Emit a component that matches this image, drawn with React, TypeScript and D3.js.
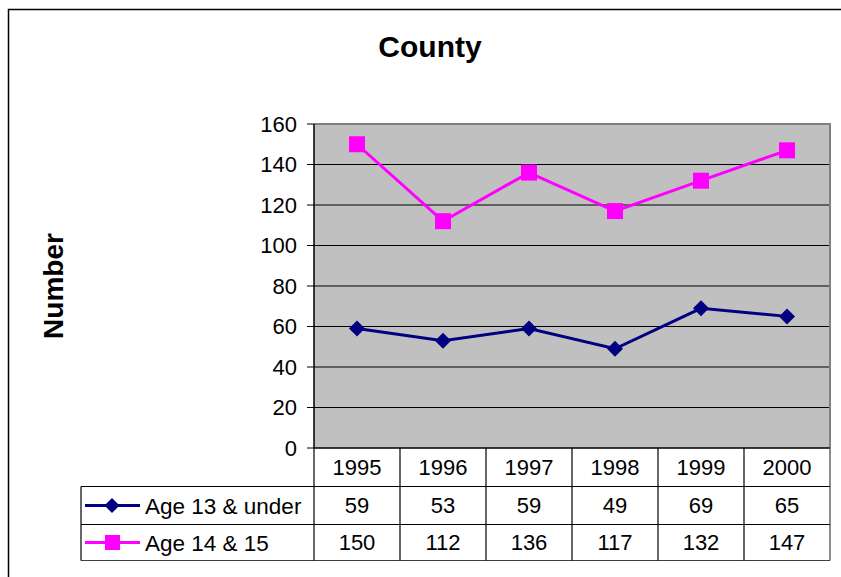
import React from "react";
import * as d3 from "d3";

const categories = ["1995", "1996", "1997", "1998", "1999", "2000"];
const seriesNames = ["Age 13 & under", "Age 14 & 15"];
const seriesUnder13 = [59, 53, 59, 49, 69, 65];
const series14to15 = [150, 112, 136, 117, 132, 147];
const yTicks = [0, 20, 40, 60, 80, 100, 120, 140, 160];
const seriesColors = ["#000080", "#FF00FF"];

const W = 841;
const H = 577;
const plotL = 314;
const plotR = 830;
const plotT = 124;
const plotB = 448;
const row0B = 486.5;
const row1B = 524.5;
const row2B = 560.5;
const tableL = 81;
const font = "'Liberation Sans', Arial, sans-serif";

export default function App() {
  const x = d3.scaleBand<string>().domain(categories).range([plotL, plotR]);
  const y = d3.scaleLinear().domain([0, 160]).range([plotB, plotT]);
  const cx = (c: string) => (x(c) as number) + x.bandwidth() / 2;
  const allSeries = [seriesUnder13, series14to15];
  const line = d3
    .line<number>()
    .x((_, i) => cx(categories[i]))
    .y((d) => y(d));

  const diamond = (px: number, py: number, r: number) =>
    `M${px},${py - r}L${px + r},${py}L${px},${py + r}L${px - r},${py}Z`;

  const marker = (si: number, px: number, py: number, key: string) =>
    si === 0 ? (
      <path key={key} d={diamond(px, py, 8)} fill={seriesColors[0]} />
    ) : (
      <rect key={key} x={px - 8} y={py - 8} width={16} height={16} fill={seriesColors[1]} />
    );

  const rowCenters = [(row0B + row1B) / 2, (row1B + row2B) / 2];
  const colEdges = categories.map((c) => x(c) as number).concat([plotR]);

  return (
    <svg
      width={W}
      height={H}
      style={{ position: "absolute", left: 0, top: 0, background: "#fff" }}
      fontFamily={font}
    >
      {/* outer border */}
      <path d={`M8.5,${H}V9.5H${W}`} fill="none" stroke="#000" strokeWidth={1.5} />

      {/* title */}
      <text x={430} y={57} textAnchor="middle" fontSize={30} fontWeight="bold">
        County
      </text>

      {/* y axis title */}
      <text
        transform="translate(63,286) rotate(-90)"
        textAnchor="middle"
        fontSize={28}
        fontWeight="bold"
      >
        Number
      </text>

      {/* plot area */}
      <rect x={plotL} y={plotT} width={plotR - plotL} height={plotB - plotT} fill="#C0C0C0" />
      {yTicks.map((t) => (
        <line key={"g" + t} x1={plotL} x2={plotR} y1={y(t)} y2={y(t)} stroke="#000" strokeWidth={1} />
      ))}
      <path
        d={`M${plotL},${plotT}H${plotR}V${plotB}`}
        fill="none"
        stroke="#808080"
        strokeWidth={2}
      />
      <line x1={plotL} x2={plotL} y1={plotT} y2={plotB} stroke="#000" strokeWidth={1.5} />

      {/* y ticks */}
      {yTicks.map((t) => (
        <g key={"t" + t}>
          <line x1={plotL - 7} x2={plotL} y1={y(t)} y2={y(t)} stroke="#000" strokeWidth={1} />
          <text x={297} y={y(t)} dy="0.35em" textAnchor="end" fontSize={22}>
            {t}
          </text>
        </g>
      ))}

      {/* series lines */}
      {allSeries.map((s, si) => (
        <path key={"l" + si} d={line(s) || ""} fill="none" stroke={seriesColors[si]} strokeWidth={3} />
      ))}
      {allSeries.map((s, si) =>
        s.map((v, i) => marker(si, cx(categories[i]), y(v), `m${si}-${i}`))
      )}

      {/* data table */}
      <g stroke="#000" strokeWidth={1.2} fill="none">
        <line x1={plotL} x2={plotR} y1={plotB} y2={plotB} />
        <line x1={tableL} x2={plotR} y1={row0B} y2={row0B} />
        <line x1={tableL} x2={plotR} y1={row1B} y2={row1B} />
        <line x1={tableL} x2={plotR} y1={row2B} y2={row2B} stroke="#404040" />
        <line x1={tableL} x2={tableL} y1={row0B} y2={row2B} />
        {colEdges.map((e, i) => (
          <line key={"c" + i} x1={e} x2={e} y1={plotB} y2={row2B} stroke={i === colEdges.length - 1 ? "#404040" : "#000"} />
        ))}
      </g>
      {categories.map((c) => (
        <text key={"h" + c} x={cx(c)} y={474.5} textAnchor="middle" fontSize={22}>
          {c}
        </text>
      ))}
      {allSeries.map((s, si) => (
        <g key={"r" + si}>
          <line
            x1={85}
            x2={140}
            y1={rowCenters[si]}
            y2={rowCenters[si]}
            stroke={seriesColors[si]}
            strokeWidth={3}
          />
          {si === 0 ? (
            <path d={diamond(112, rowCenters[si], 7.5)} fill={seriesColors[0]} />
          ) : (
            <rect x={105} y={rowCenters[si] - 7.5} width={15} height={15} fill={seriesColors[1]} />
          )}
          <text x={145} y={rowCenters[si]} dy="0.36em" fontSize={22.5}>
            {seriesNames[si]}
          </text>
          {s.map((v, i) => (
            <text key={i} x={cx(categories[i])} y={rowCenters[si]} dy="0.36em" textAnchor="middle" fontSize={22}>
              {v}
            </text>
          ))}
        </g>
      ))}
    </svg>
  );
}
